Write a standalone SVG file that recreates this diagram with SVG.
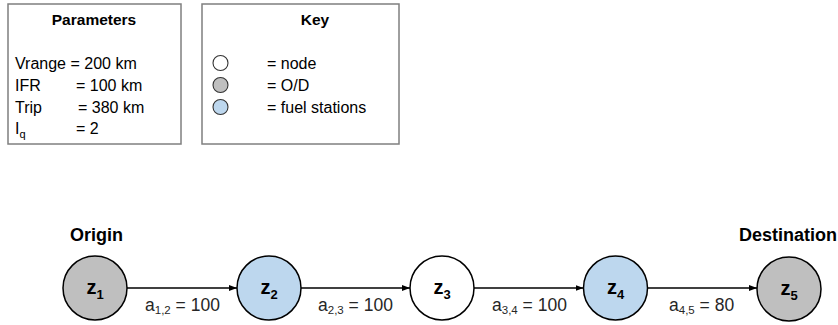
<svg xmlns="http://www.w3.org/2000/svg" width="838" height="325" viewBox="0 0 838 325">
  <style>
    .box { fill: #ffffff; stroke: #7f7f7f; stroke-width: 1.5; }
    .title { font-family: "Liberation Sans", Arial, sans-serif; font-weight: bold; font-size: 15.5px; fill: #000; }
    .body { font-family: "Liberation Sans", Arial, sans-serif; font-size: 16px; fill: #000; }
    .key-dot { stroke: #333333; stroke-width: 1.1; }
    .node { stroke: #000; stroke-width: 1.5; }
    .od { fill: #bfbfbf; }
    .fuel { fill: #bdd7ee; }
    .plain { fill: #ffffff; }
    .nlabel { font-family: "Liberation Sans", Arial, sans-serif; font-weight: bold; font-size: 20px; fill: #000; }
    .nsub { font-size: 13px; }
    .elabel { font-family: "Liberation Sans", Arial, sans-serif; font-size: 17.5px; fill: #262626; }
    .esub { font-size: 11.5px; }
    .tag { font-family: "Liberation Sans", Arial, sans-serif; font-weight: bold; font-size: 18px; fill: #000; }
    .edge { stroke: #000; stroke-width: 1.3; fill: none; }
  </style>
  <defs>
    <marker id="arrow" markerWidth="8" markerHeight="6" refX="8" refY="3" orient="auto" markerUnits="userSpaceOnUse">
      <path d="M0,0 L8,3 L0,6 Z" fill="#000"/>
    </marker>
  </defs>

  <!-- Parameters panel -->
  <g id="parameters">
    <rect class="box" x="8" y="4" width="173" height="140"/>
    <text class="title" x="94" y="25" text-anchor="middle">Parameters</text>
    <text class="body" x="15" y="68.5">Vrange = 200 km</text>
    <text class="body" x="15" y="90.5">IFR</text>
    <text class="body" x="76" y="90.5">= 100 km</text>
    <text class="body" x="15" y="112.5">Trip</text>
    <text class="body" x="78" y="112.5">= 380 km</text>
    <text class="body" x="15" y="133.5">I<tspan font-size="11" dy="4">q</tspan></text>
    <text class="body" x="76" y="133.5">= 2</text>
  </g>

  <!-- Key panel -->
  <g id="key">
    <rect class="box" x="202" y="4" width="197" height="140"/>
    <text class="title" x="315" y="25" text-anchor="middle">Key</text>
    <circle class="key-dot plain" cx="220.5" cy="63" r="7.5"/>
    <circle class="key-dot od" cx="220.5" cy="85" r="7.5"/>
    <circle class="key-dot fuel" cx="220.5" cy="107" r="7.5"/>
    <text class="body" x="267" y="68.5">= node</text>
    <text class="body" x="267" y="90.5">= O/D</text>
    <text class="body" x="267" y="112.5">= fuel stations</text>
  </g>

  <!-- Connectors -->
  <g id="connectors">
    <line class="edge" x1="127" y1="288" x2="237" y2="288" marker-end="url(#arrow)"/>
    <line class="edge" x1="301" y1="288" x2="410" y2="288" marker-end="url(#arrow)"/>
    <line class="edge" x1="474" y1="288" x2="583.5" y2="288" marker-end="url(#arrow)"/>
    <line class="edge" x1="647.5" y1="288" x2="757" y2="288" marker-end="url(#arrow)"/>
    <text class="elabel" x="145" y="311">a<tspan class="esub" dy="3">1,2</tspan><tspan dy="-3"> = 100</tspan></text>
    <text class="elabel" x="318" y="311">a<tspan class="esub" dy="3">2,3</tspan><tspan dy="-3"> = 100</tspan></text>
    <text class="elabel" x="492" y="311">a<tspan class="esub" dy="3">3,4</tspan><tspan dy="-3"> = 100</tspan></text>
    <text class="elabel" x="669" y="311">a<tspan class="esub" dy="3">4,5</tspan><tspan dy="-3"> = 80</tspan></text>
  </g>

  <!-- Nodes -->
  <g id="z1">
    <text class="tag" x="70" y="241">Origin</text>
    <circle class="node od" cx="95" cy="288" r="32"/>
    <text class="nlabel" x="95" y="294" text-anchor="middle">z<tspan class="nsub" dy="5">1</tspan></text>
  </g>
  <g id="z2">
    <circle class="node fuel" cx="269" cy="288" r="32"/>
    <text class="nlabel" x="269" y="294" text-anchor="middle">z<tspan class="nsub" dy="5">2</tspan></text>
  </g>
  <g id="z3">
    <circle class="node plain" cx="442" cy="288" r="32"/>
    <text class="nlabel" x="442" y="294" text-anchor="middle">z<tspan class="nsub" dy="5">3</tspan></text>
  </g>
  <g id="z4">
    <circle class="node fuel" cx="615.5" cy="288" r="32"/>
    <text class="nlabel" x="615.5" y="294" text-anchor="middle">z<tspan class="nsub" dy="5">4</tspan></text>
  </g>
  <g id="z5">
    <text class="tag" x="837" y="241" text-anchor="end">Destination</text>
    <circle class="node od" cx="789" cy="289" r="32"/>
    <text class="nlabel" x="789" y="295" text-anchor="middle">z<tspan class="nsub" dy="5">5</tspan></text>
  </g>
</svg>
